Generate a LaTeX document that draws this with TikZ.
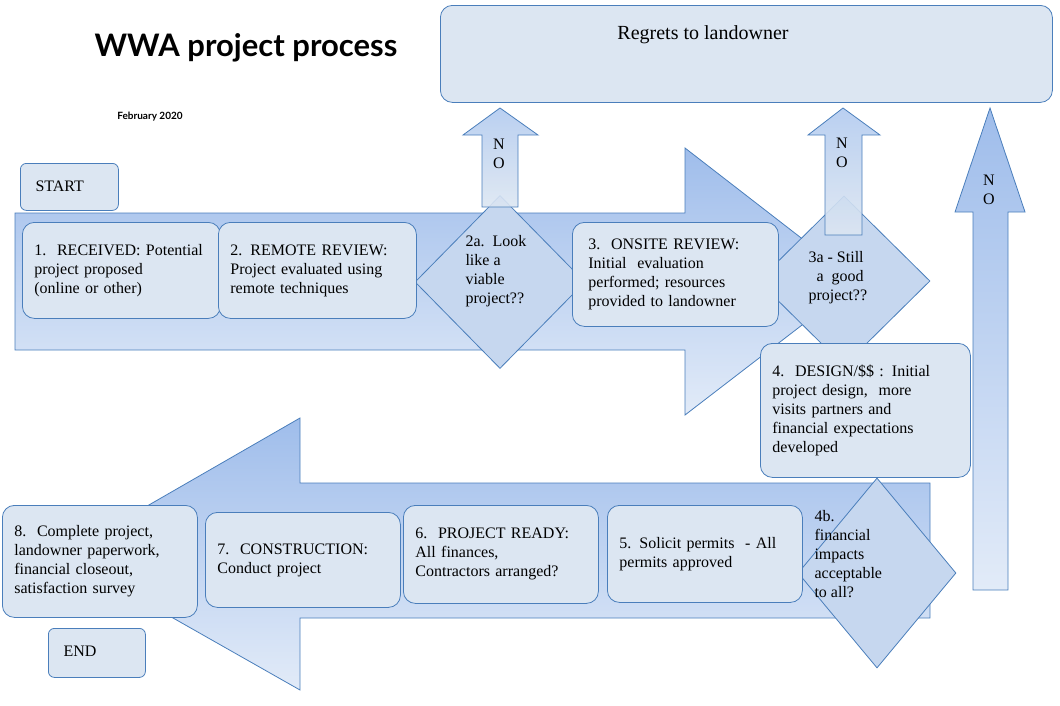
\documentclass[tikz,border=0pt]{standalone}
\usepackage{fontspec}
\setmainfont{Liberation Serif}
\newfontfamily\titlefont{Lato}
\usetikzlibrary{shapes.geometric}
\definecolor{boxfill}{HTML}{DCE6F2}
\definecolor{boxline}{HTML}{4A7EBB}
\definecolor{dmdfill}{HTML}{C6D7EF}
\definecolor{arrtop}{HTML}{9FBDEB}
\definecolor{arrbot}{HTML}{E2EBF8}
\tikzset{
  stage/.style={draw=boxline,thick,fill=boxfill,rounded corners=12pt,align=left,
    inner sep=12pt,font=\fontsize{16}{19}\selectfont},
  choice/.style={draw=boxline,thick,fill=dmdfill,diamond,inner sep=0pt,
    align=left,font=\fontsize{16}{19}\selectfont},
  bigarrow/.style={draw=boxline,thick,top color=arrtop,bottom color=arrbot},
  noarrow/.style={draw=boxline,thick,top color=arrtop!80,bottom color=boxfill,fill opacity=.9}
}
\begin{document}
\begin{tikzpicture}[x=1pt,y=-1pt]
\useasboundingbox (0,0) rectangle (1060,705);
% big flow arrows
\draw[bigarrow](15,213)--(685,213)--(685,148)--(858,282)--(685,415)--(685,350)--(15,350)--cycle;
\draw[bigarrow](930,483)--(300,483)--(300,418)--(62,555)--(300,690)--(300,618)--(930,618)--cycle;
\draw[bigarrow](973,590)--(973,212)--(955,212)--(990,108)--(1025,212)--(1008,212)--(1008,590)--cycle;
% title
\node[font=\titlefont\bfseries\fontsize{31}{34}\selectfont] (title) at (246,48) {WWA project process};
\node[font=\titlefont\bfseries\fontsize{10}{12}\selectfont] (date) at (150,117) {February 2020};
\node[stage,minimum width=612,minimum height=97,anchor=north west,align=center,inner sep=0pt] (regrets) at (440,5) {};
\node[font=\fontsize{20}{22}\selectfont] (regtext) at (703,35) {Regrets to landowner};
\node[stage,rounded corners=6pt,minimum width=98,minimum height=47,anchor=north west,inner sep=0pt] (start) at (20,163) {};
\node[font=\fontsize{16}{19}\selectfont,anchor=west] at (32,186) {START};
\node[stage,rounded corners=6pt,minimum width=97,minimum height=49,anchor=north west,inner sep=0pt] (end) at (48,628) {};
\node[font=\fontsize{16}{19}\selectfont,anchor=west] at (60,651) {END};
% decisions
\node[choice,minimum width=170,minimum height=173] (d2a) at (500,282) {};
\node[anchor=north west,align=left,font=\fontsize{16}{19}\selectfont] at (462,232) {2a.\ \ Look\\like a\\viable\\project??};
\node[choice,minimum width=172,minimum height=170] (d3a) at (844,281) {};
\node[anchor=north west,align=left,font=\fontsize{16}{19}\selectfont] at (805,248) {3a - Still\\\ \ a\ \ good\\project??};
\node[choice,minimum width=158,minimum height=190] (d4b) at (877,573) {};
\node[anchor=north west,align=left,font=\fontsize{16}{19}\selectfont] at (811,507) {4b.\\financial\\impacts\\acceptable\\to all?};
% NO arrows
\draw[noarrow](482,207)--(482,135)--(463,135)--(500,108)--(538,135)--(518,135)--(518,207)--cycle;
\draw[noarrow](825,235)--(825,135)--(808,135)--(843,108)--(880,135)--(862,135)--(862,235)--cycle;
\node[font=\fontsize{16}{19}\selectfont,align=center] (no1) at (499,154) {N\\O};
\node[font=\fontsize{16}{19}\selectfont,align=center] (no2) at (842,153) {N\\O};
\node[font=\fontsize{16}{19}\selectfont,align=center] (no3) at (989,190) {N\\O};
% stages
\node[stage,minimum width=196,minimum height=96,anchor=north west,text width=174] (s1) at (22,222) {1.\ \ RECEIVED: Potential\\project proposed\\(online or other)};
\node[stage,minimum width=197,minimum height=96,anchor=north west,text width=174] (s2) at (218,222) {2. REMOTE REVIEW:\\Project evaluated using\\remote techniques};
\node[stage,minimum width=196,minimum height=104,anchor=north west,text width=174,inner xsep=16pt] (s3) at (572,222) {3.\ \ ONSITE REVIEW:\\Initial\ \ evaluation\\performed; resources\\provided to landowner};
\node[stage,minimum width=208,minimum height=134,anchor=north west,text width=186] (s4) at (760,343) {4.\ \ DESIGN/\$\$ : Initial\\project design,\ \ more\\visits partners and\\financial expectations\\developed};
\node[stage,minimum width=195,minimum height=97,anchor=north west,text width=171] (s5) at (607,505) {5. Solicit permits\ \ - All\\permits approved\\[19pt]};
\node[stage,minimum width=195,minimum height=98,anchor=north west,text width=171] (s6) at (403,505) {6.\ \ PROJECT READY:\\All finances,\\Contractors arranged?};
\node[stage,minimum width=195,minimum height=95,anchor=north west,text width=171] (s7) at (205,512) {7.\ \ CONSTRUCTION:\\Conduct project\\[19pt]};
\node[stage,minimum width=195,minimum height=112,anchor=north west,text width=171] (s8) at (2,505) {8.\ \ Complete project,\\landowner paperwork,\\financial closeout,\\satisfaction survey};
\end{tikzpicture}
\end{document}
